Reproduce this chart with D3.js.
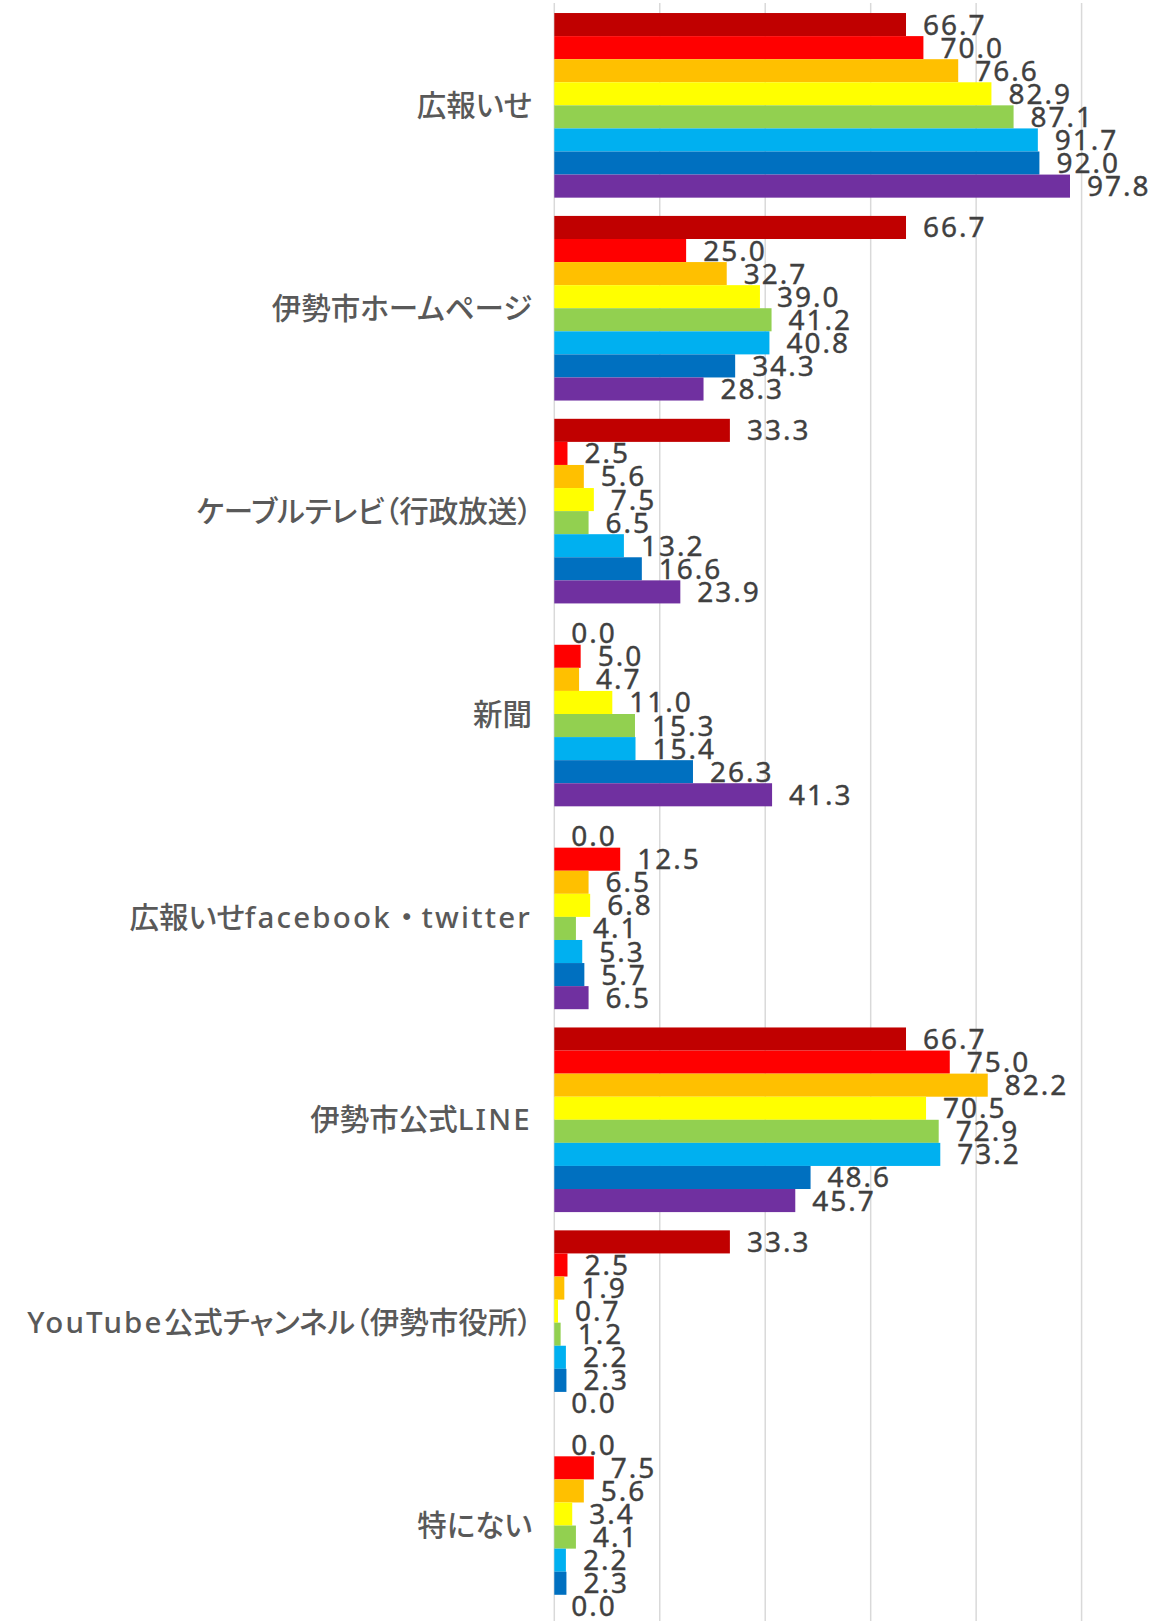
<!DOCTYPE html>
<html>
<head>
<meta charset="utf-8">
<script src="https://cdn.jsdelivr.net/npm/d3@7"></script>
<style>
  body { margin: 0; background: #fff; }
  svg { display: block; }
  .cjk { font-feature-settings: "palt"; }
</style>
</head>
<body>
<svg id="svg" width="1155" height="1621"></svg>
<script>
const categories = [
  '広報いせ',
  '伊勢市ホームページ',
  'ケーブルテレビ（行政放送）',
  '新聞',
  '広報いせfacebook・twitter',
  '伊勢市公式LINE',
  'YouTube公式チャンネル（伊勢市役所）',
  '特にない'
]

const seriesKeys = ['s1', 's2', 's3', 's4', 's5', 's6', 's7', 's8']

const seriesColors = ['#C00000', '#FF0000', '#FFC000', '#FFFF00', '#92D050', '#00B0F0', '#0070C0', '#7030A0']

// one row per category, one value per series
const values = [
  [66.7, 70.0, 76.6, 82.9, 87.1, 91.7, 92.0, 97.8],
  [66.7, 25.0, 32.7, 39.0, 41.2, 40.8, 34.3, 28.3],
  [33.3, 2.5, 5.6, 7.5, 6.5, 13.2, 16.6, 23.9],
  [0.0, 5.0, 4.7, 11.0, 15.3, 15.4, 26.3, 41.3],
  [0.0, 12.5, 6.5, 6.8, 4.1, 5.3, 5.7, 6.5],
  [66.7, 75.0, 82.2, 70.5, 72.9, 73.2, 48.6, 45.7],
  [33.3, 2.5, 1.9, 0.7, 1.2, 2.2, 2.3, 0.0],
  [0.0, 7.5, 5.6, 3.4, 4.1, 2.2, 2.3, 0.0]
]

const xTicks = [0, 20, 40, 60, 80, 100]

let svg = d3.select('#svg')

let x = d3.scaleLinear()
  .domain([0, 100])
  .range([554.3, 1081.6])

let y0 = d3.scaleBand()
  .domain(categories)
  .range([3.9, 1627])
  .paddingInner(0.09)
  .paddingOuter(0.045)

let y1 = d3.scaleBand()
  .domain(seriesKeys)
  .range([0, y0.bandwidth()])

// gridlines
svg.append('g')
  .selectAll('line')
  .data(xTicks)
  .enter()
  .append('line')
  .attr('x1', d => x(d))
  .attr('x2', d => x(d))
  .attr('y1', 3)
  .attr('y2', 1621)
  .attr('stroke', '#d9d9d9')
  .attr('stroke-width', 1.5)

let groups = svg.append('g')
  .selectAll('g')
  .data(categories)
  .enter()
  .append('g')
  .attr('transform', d => 'translate(0,' + y0(d) + ')')

groups.selectAll('rect')
  .data((d, i) => values[i].map((v, j) => ({ key: seriesKeys[j], value: v, color: seriesColors[j] })))
  .enter()
  .append('rect')
  .attr('x', x(0))
  .attr('y', d => y1(d.key))
  .attr('width', d => x(d.value) - x(0))
  .attr('height', y1.bandwidth())
  .attr('fill', d => d.color)

groups.selectAll('text.val')
  .data((d, i) => values[i].map((v, j) => ({ key: seriesKeys[j], value: v })))
  .enter()
  .append('text')
  .attr('class', 'val')
  .attr('x', d => x(d.value) + 17)
  .attr('y', d => y1(d.key) + y1.bandwidth() / 2 + 10)
  .attr('font-family', '"Noto Sans", sans-serif')
  .attr('font-size', 28)
  .attr('letter-spacing', 2)
  .attr('fill', '#404040')
  .attr('stroke', '#404040')
  .attr('stroke-width', 0.4)
  .text(d => d.value.toFixed(1))

// category labels, latin runs set in a wider face
let labels = svg.append('g')
  .selectAll('text')
  .data(categories)
  .enter()
  .append('text')
  .attr('x', 532)
  .attr('y', d => y0(d) + y0.bandwidth() / 2)
  .attr('dy', '0.36em')
  .attr('text-anchor', 'end')
  .attr('font-family', '"Noto Sans CJK JP", sans-serif')
  .attr('font-size', 29.5)
  .attr('font-weight', 500)
  .attr('fill', '#595959')

labels.selectAll('tspan')
  .data(d => d.split(/([A-Za-z]+|・)/).filter(s => s !== ''))
  .enter()
  .append('tspan')
  .attr('class', s => /[A-Za-z・]/.test(s) ? null : 'cjk')
  .attr('font-family', s => /[A-Za-z]/.test(s) ? '"Noto Sans", sans-serif' : null)
  .attr('letter-spacing', s => /[A-Za-z]/.test(s) ? 2.2 : null)
  .text(s => s)
</script>
</body>
</html>
